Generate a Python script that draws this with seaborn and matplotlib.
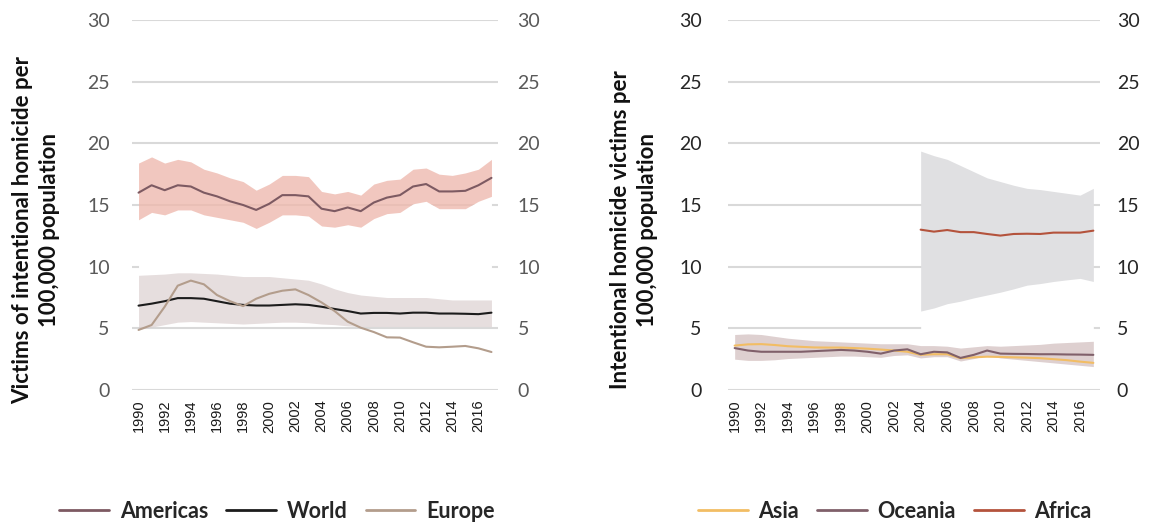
import numpy as np
import pandas as pd
import matplotlib
matplotlib.use("Agg")
import matplotlib.pyplot as plt
from matplotlib.lines import Line2D
import seaborn as sns

# ---------------- data ----------------
years = list(range(1990, 2018))

americas = [16.0, 16.6, 16.2, 16.6, 16.5, 16.0, 15.7, 15.3, 15.0, 14.6, 15.1, 15.8, 15.8, 15.7,
            14.7, 14.5, 14.8, 14.5, 15.2, 15.6, 15.8, 16.5, 16.7, 16.1, 16.1, 16.15, 16.6, 17.2]
americas_hi = [18.4, 18.9, 18.4, 18.7, 18.5, 17.9, 17.6, 17.2, 16.9, 16.2, 16.7, 17.4, 17.4, 17.3,
               16.1, 15.9, 16.1, 15.8, 16.7, 17.0, 17.1, 17.9, 18.0, 17.5, 17.4, 17.6, 17.9, 18.7]
americas_lo = [13.8, 14.4, 14.2, 14.6, 14.6, 14.2, 14.0, 13.8, 13.6, 13.1, 13.6, 14.2, 14.2, 14.1,
               13.3, 13.2, 13.4, 13.2, 13.9, 14.3, 14.4, 15.1, 15.3, 14.7, 14.7, 14.7, 15.3, 15.7]

world = [6.84, 7.0, 7.2, 7.45, 7.45, 7.4, 7.2, 7.0, 6.9, 6.85, 6.85, 6.9, 6.95, 6.9,
         6.75, 6.57, 6.4, 6.2, 6.25, 6.25, 6.2, 6.27, 6.27, 6.2, 6.2, 6.18, 6.15, 6.27]
world_hi = [9.3, 9.35, 9.4, 9.5, 9.5, 9.45, 9.4, 9.3, 9.2, 9.2, 9.2, 9.1, 9.0, 8.9,
            8.6, 8.2, 7.9, 7.7, 7.6, 7.5, 7.5, 7.5, 7.5, 7.4, 7.3, 7.3, 7.3, 7.3]
world_lo = [4.9, 5.1, 5.3, 5.5, 5.55, 5.5, 5.45, 5.4, 5.35, 5.4, 5.45, 5.5, 5.5, 5.45,
            5.35, 5.3, 5.2, 5.15, 5.15, 5.15, 5.15, 5.15, 5.15, 5.15, 5.15, 5.15, 5.15, 5.15]

europe = [4.87, 5.27, 6.75, 8.46, 8.87, 8.57, 7.7, 7.2, 6.8, 7.4, 7.8, 8.05, 8.16, 7.7,
          7.1, 6.4, 5.54, 5.05, 4.7, 4.27, 4.25, 3.87, 3.51, 3.46, 3.51, 3.57, 3.38, 3.08]

asia = [3.6, 3.7, 3.72, 3.65, 3.55, 3.5, 3.45, 3.44, 3.44, 3.4, 3.35, 3.28, 3.2, 3.1,
        2.85, 2.9, 2.9, 2.58, 2.65, 2.7, 2.68, 2.65, 2.62, 2.58, 2.5, 2.42, 2.3, 2.2]
oceania = [3.4, 3.2, 3.1, 3.1, 3.1, 3.1, 3.15, 3.2, 3.25, 3.2, 3.1, 2.95, 3.2, 3.3,
           2.9, 3.1, 3.05, 2.6, 2.85, 3.2, 2.95, 2.93, 2.92, 2.9, 2.9, 2.88, 2.87, 2.85]
oceania_hi = [4.5, 4.55, 4.5, 4.35, 4.2, 4.1, 4.0, 3.95, 3.9, 3.85, 3.8, 3.75, 3.75, 3.75,
              3.6, 3.6, 3.55, 3.4, 3.5, 3.6, 3.55, 3.6, 3.65, 3.7, 3.8, 3.85, 3.9, 3.95]
oceania_lo = [2.5, 2.4, 2.4, 2.45, 2.55, 2.6, 2.65, 2.7, 2.75, 2.75, 2.7, 2.65, 2.8, 2.85,
              2.6, 2.7, 2.7, 2.35, 2.55, 2.8, 2.6, 2.5, 2.4, 2.3, 2.2, 2.1, 2.0, 1.9]

africa_years = list(range(2004, 2018))
africa = [13.0, 12.84, 12.97, 12.8, 12.8, 12.65, 12.52, 12.65, 12.67, 12.65, 12.76, 12.76, 12.76, 12.92]
africa_hi = [19.37, 19.0, 18.7, 18.2, 17.7, 17.2, 16.9, 16.6, 16.35, 16.25, 16.1, 15.95, 15.8, 16.35]
africa_lo = [6.4, 6.65, 7.0, 7.2, 7.47, 7.7, 7.93, 8.2, 8.5, 8.63, 8.8, 8.93, 9.05, 8.8]

left_series = ["Americas", "World", "Europe"]
right_series = ["Asia", "Oceania", "Africa"]
year_ticks = list(range(1990, 2017, 2))
y_ticks = [0, 5, 10, 15, 20, 25, 30]
left_ylabel = "Victims of intentional homicide per\n100,000 population"
right_ylabel = "Intentional homicide victims per\n100,000 population"

colors = {"Americas": "#7d5a62", "World": "#1c1c1c", "Europe": "#b39d8c",
          "Asia": "#f2bd64", "Oceania": "#80606a", "Africa": "#b4533c"}

left_df = pd.DataFrame({"year": years * 3,
                        "value": americas + world + europe,
                        "series": sum([[s] * len(years) for s in left_series], [])})
right_df = pd.concat([
    pd.DataFrame({"year": years, "value": asia, "series": "Asia"}),
    pd.DataFrame({"year": years, "value": oceania, "series": "Oceania"}),
    pd.DataFrame({"year": africa_years, "value": africa, "series": "Africa"}),
], ignore_index=True)

# ---------------- figure ----------------
sns.set_theme(style="white")
plt.rcParams["font.family"] = ["Lato", "DejaVu Sans"]

W, H = 1154, 525
fig = plt.figure(figsize=(W / 100, H / 100), dpi=100)
axL = fig.add_axes([132 / W, 1 - 390 / H, 366 / W, 370 / H])
axR = fig.add_axes([728 / W, 1 - 390 / H, 372 / W, 370 / H])

# left bands
axL.fill_between(years, world_hi, americas_lo, color="white", lw=0, zorder=1)
axL.fill_between(years, americas_lo, americas_hi, color="#eeb8ad", alpha=0.78, lw=0, zorder=1.2)
axL.fill_between(years, world_lo, world_hi, color="#d6c8c8", alpha=0.6, lw=0, zorder=1.2)

# right bands
axR.fill_between(africa_years, oceania_hi[14:], africa_lo, color="white", lw=0, zorder=1)
axR.fill_between(africa_years, africa_lo, africa_hi, color="#e0e0e2", lw=0, zorder=1.2)
axR.fill_between(years, oceania_lo, oceania_hi, color="#c9b1b1", alpha=0.6, lw=0, zorder=1.2)

sns.lineplot(data=left_df, x="year", y="value", hue="series", hue_order=left_series,
             palette=colors, linewidth=1.5, ax=axL, legend=False, zorder=3)
sns.lineplot(data=right_df, x="year", y="value", hue="series", hue_order=right_series,
             palette=colors, linewidth=1.5, ax=axR, legend=False, zorder=3)

panels = [
    (axL, "#595959", 16, 14, left_ylabel, 36),
    (axR, "#262626", 19, 12, right_ylabel, 634),
]
for ax, tick_col, lpad, rpad, ylab, lblx in panels:
    ax.set_xlim(1989.5, 2017.5)
    ax.set_ylim(0, 30)
    ax.set_yticks(y_ticks)
    ax.set_xticks(year_ticks)
    ax.set_xticklabels([str(y) for y in year_ticks], rotation=90,
                       family="Liberation Sans", fontsize=10.5, color="#1a1a1a")
    ax.set_axisbelow(True)
    ax.grid(axis="y", color="#d9d9d9", lw=1.5)
    ax.grid(axis="x", visible=False)
    for s in ax.spines.values():
        s.set_visible(False)
    ax.tick_params(axis="y", length=0, labelsize=14, labelcolor=tick_col, pad=lpad)
    ax.tick_params(axis="x", length=0, pad=7)
    ax.set_xlabel("")
    ax.set_ylabel("")
    # right-side labels
    tw = ax.twinx()
    tw.set_ylim(0, 30)
    tw.set_yticks(y_ticks)
    tw.grid(False)
    for s in tw.spines.values():
        s.set_visible(False)
    tw.tick_params(axis="y", length=0, labelsize=14, labelcolor=tick_col, pad=rpad)
    fig.text(lblx / W, 1 - 230 / H, ylab, rotation=90, ha="center", va="center",
             fontsize=16, fontweight="bold", color="#111111", linespacing=1.3)

# legends
for names, cx in [(left_series, 277 / W), (right_series, 895 / W)]:
    handles = [Line2D([], [], color=colors[n], lw=2) for n in names]
    fig.legend(handles, names, loc="center", bbox_to_anchor=(cx, 1 - 511 / H),
               ncol=3, frameon=False, handlelength=2.3, handletextpad=0.5, columnspacing=0.85,
               prop={"family": "Lato", "weight": "bold", "size": 15.5})

fig.savefig("out.png", dpi=100)
